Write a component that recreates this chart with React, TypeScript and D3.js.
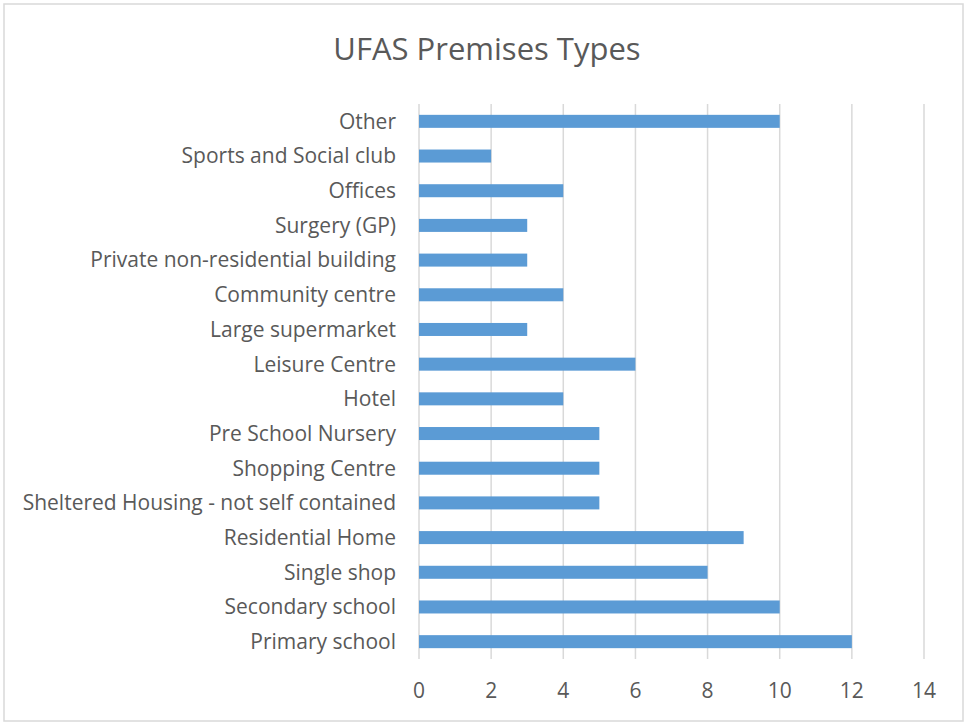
import React from "react";
import * as d3 from "d3";

const categories = [
  "Other",
  "Sports and Social club",
  "Offices ",
  "Surgery (GP)",
  "Private non-residential building",
  "Community centre",
  "Large supermarket",
  "Leisure Centre",
  "Hotel",
  "Pre School Nursery",
  "Shopping Centre",
  "Sheltered Housing - not self contained",
  "Residential Home",
  "Single shop",
  "Secondary school",
  "Primary school",
];
const values = [10, 2, 4, 3, 3, 4, 3, 6, 4, 5, 5, 5, 9, 8, 10, 12];
const xTicks = [0, 2, 4, 6, 8, 10, 12, 14];
const title = "UFAS Premises Types";

const W = 967;
const H = 724;
const left = 419;
const right = 924;
const top = 104;
const bottom = 659;
const font = "'Open Sans', sans-serif";
const textColor = "#595959";

export default function App() {
  const x = d3.scaleLinear().domain([0, 14]).range([left, right]);
  const y = d3
    .scaleBand<string>()
    .domain(categories)
    .range([top, bottom])
    .paddingInner(0.625)
    .paddingOuter(0.3125);
  const band = d3.scaleBand<string>().domain(categories).range([top, bottom]);

  return (
    <svg
      width={W}
      height={H}
      style={{ position: "absolute", left: 0, top: 0, background: "#fff" }}
    >
      <rect x={0} y={0} width={W} height={H} fill="#fff" />
      <rect
        x={4}
        y={4}
        width={W - 8}
        height={H - 7}
        fill="#fff"
        stroke="#d9d9d9"
        strokeWidth={1.5}
      />
      <text
        x={487}
        y={60}
        textAnchor="middle"
        fontFamily={font}
        fontSize={31}
        fill={textColor}
      >
        {title}
      </text>
      {xTicks.map((t) => (
        <line
          key={"g" + t}
          x1={x(t)}
          x2={x(t)}
          y1={top}
          y2={bottom}
          stroke="#d9d9d9"
          strokeWidth={1.5}
        />
      ))}
      {categories.map((c, i) => (
        <rect
          key={"b" + c}
          x={x(0)}
          y={y(c)}
          width={x(values[i]) - x(0)}
          height={y.bandwidth()}
          fill="#5b9bd5"
        />
      ))}
      {categories.map((c) => (
        <text
          key={"l" + c}
          x={396}
          y={(band(c) as number) + band.bandwidth() / 2}
          dy="0.35em"
          textAnchor="end"
          fontFamily={font}
          fontSize={21}
          fill={textColor}
        >
          {c}
        </text>
      ))}
      {xTicks.map((t) => (
        <text
          key={"t" + t}
          x={x(t)}
          y={691}
          dy="0.35em"
          textAnchor="middle"
          fontFamily={font}
          fontSize={21}
          fill={textColor}
        >
          {t}
        </text>
      ))}
    </svg>
  );
}
